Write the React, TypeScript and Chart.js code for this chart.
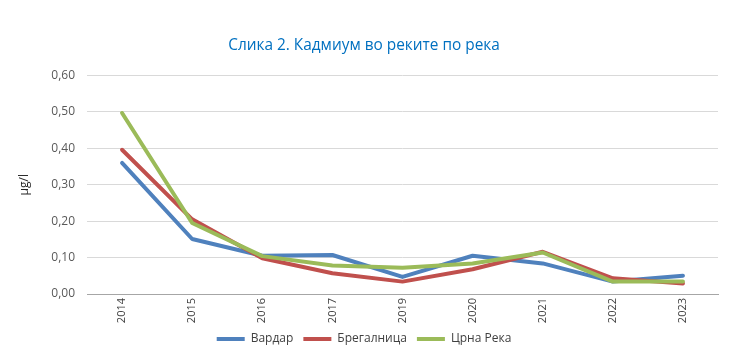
import React, { useEffect, useRef } from "react";
import { Chart, registerables } from "chart.js";

Chart.register(...registerables);

const categories = ["2014", "2015", "2016", "2017", "2019", "2020", "2021", "2022", "2023"];
const vardar = [0.36, 0.151, 0.105, 0.107, 0.047, 0.105, 0.084, 0.034, 0.05];
const bregalnica = [0.396, 0.205, 0.098, 0.057, 0.034, 0.068, 0.116, 0.043, 0.029];
const crnaReka = [0.497, 0.195, 0.104, 0.078, 0.072, 0.084, 0.114, 0.034, 0.034];
const yTicks = [0, 0.1, 0.2, 0.3, 0.4, 0.5, 0.6];

const FONT = "'Open Sans', 'Liberation Sans', sans-serif";

export default function App() {
  const ref = useRef<HTMLCanvasElement | null>(null);

  useEffect(() => {
    if (!ref.current) return;
    const chart = new Chart(ref.current, {
      type: "line",
      data: {
        labels: categories,
        datasets: [
          { label: "Вардар", data: vardar, borderColor: "#4F81BD", backgroundColor: "#4F81BD", borderWidth: 4, order: 3 },
          { label: "Брегалница", data: bregalnica, borderColor: "#C0504D", backgroundColor: "#C0504D", borderWidth: 4, order: 2 },
          { label: "Црна Река", data: crnaReka, borderColor: "#9BBB59", backgroundColor: "#9BBB59", borderWidth: 4, order: 1 },
        ],
      },
      options: {
        responsive: false,
        animation: false,
        events: [],
        layout: { padding: { left: 10, right: 18, top: 0, bottom: 8 } },
        elements: {
          line: { borderWidth: 4, tension: 0, borderCapStyle: "round", borderJoinStyle: "round" },
          point: { radius: 0 },
        },
        plugins: {
          tooltip: { enabled: false },
          title: {
            display: true,
            text: "Слика 2. Кадмиум во реките по река",
            color: "#0070C0",
            font: { family: FONT, size: 15.4, weight: "normal" },
            padding: { top: 36, bottom: 21 },
          },
          legend: {
            position: "bottom",
            labels: {
              usePointStyle: true,
              pointStyle: "line",
              pointStyleWidth: 28,
              boxWidth: 28,
              boxHeight: 12,
              padding: 10,
              color: "#404040",
              font: { family: FONT, size: 12 },
              sort: (a: any, b: any) => a.datasetIndex - b.datasetIndex,
            },
          },
        },
        scales: {
          x: {
            offset: true,
            grid: { display: false, drawTicks: false },
            border: { display: true, color: "#A6A6A6", width: 1 },
            ticks: {
              minRotation: 90,
              maxRotation: 90,
              padding: 4,
              color: "#404040",
              font: { family: FONT, size: 11 },
            },
            afterFit: (s: any) => {
              s.height = 29;
            },
          },
          y: {
            min: 0,
            max: 0.6,
            afterBuildTicks: (s: any) => {
              s.ticks = yTicks.map((v) => ({ value: v }));
            },
            grid: { color: "#D9D9D9", lineWidth: 1, drawTicks: false },
            border: { display: false },
            ticks: {
              padding: 12,
              color: "#595959",
              font: { family: FONT, size: 12 },
              callback: (v: any) => Number(v).toFixed(2).replace(".", ","),
            },
            title: {
              display: true,
              text: "µg/l",
              color: "#262626",
              font: { family: FONT, size: 12 },
              padding: { top: 7, bottom: 4 },
            },
            afterFit: (s: any) => {
              s.width = 77;
            },
          },
        },
      },
    });
    return () => chart.destroy();
  }, []);

  return (
    <div style={{ position: "absolute", left: 0, top: 0, width: 736, height: 363, background: "#fff" }}>
      <canvas ref={ref} width={736} height={363} />
    </div>
  );
}
